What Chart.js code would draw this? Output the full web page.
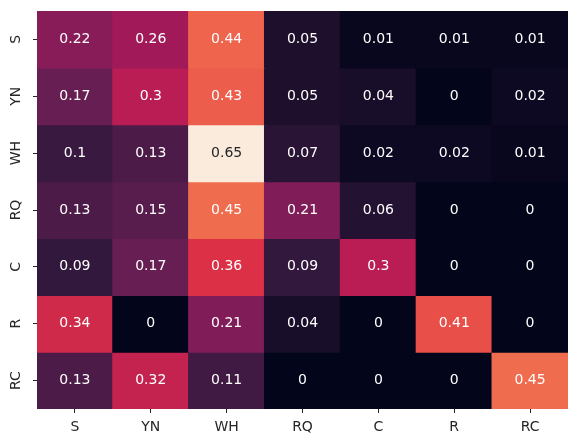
<!DOCTYPE html>
<html><head><meta charset="utf-8">
<script src="https://cdn.jsdelivr.net/npm/chart.js@4/dist/chart.umd.min.js"></script>
<style>html,body{margin:0;padding:0;background:#fff}#wrap{width:568px;height:436px}</style>
</head><body><div id="wrap"><canvas id="c" width="568" height="436"></canvas></div>
<script>
const colLabels = ["S","YN","WH","RQ","C","R","RC"];
const rowLabels = ["S","YN","WH","RQ","C","R","RC"];
const rowS  = [0.22,0.26,0.44,0.05,0.01,0.01,0.01];
const rowYN = [0.17,0.3,0.43,0.05,0.04,0,0.02];
const rowWH = [0.1,0.13,0.65,0.07,0.02,0.02,0.01];
const rowRQ = [0.13,0.15,0.45,0.21,0.06,0,0];
const rowC  = [0.09,0.17,0.36,0.09,0.3,0,0];
const rowR  = [0.34,0,0.21,0.04,0,0.41,0];
const rowRC = [0.13,0.32,0.11,0,0,0,0.45];
const rows = [rowS,rowYN,rowWH,rowRQ,rowC,rowR,rowRC];
const vmin = 0, vmax = 0.65;

// rocket colormap anchors
const anchors = [
  [0,[3,5,26]],[1/7,[0x35,0x19,0x3e]],[2/7,[0x70,0x1f,0x57]],[3/7,[0xad,0x17,0x59]],
  [4/7,[0xe1,0x33,0x42]],[5/7,[0xf3,0x76,0x51]],[6/7,[0xf6,0xb4,0x8f]],[1,[0xfa,0xeb,0xdd]]
];
function rocket(t){
  t=Math.max(0,Math.min(1,t));
  for(let i=0;i<anchors.length-1;i++){
    const [a,ca]=anchors[i],[b,cb]=anchors[i+1];
    if(t<=b){const f=(t-a)/(b-a);return ca.map((v,k)=>Math.round(v+(cb[k]-v)*f));}
  }
  return anchors[anchors.length-1][1];
}
function lum(c){
  const l=c.map(v=>{v/=255;return v<=0.03928?v/12.92:Math.pow((v+0.055)/1.055,2.4);});
  return 0.2126*l[0]+0.7152*l[1]+0.0722*l[2];
}
const datasets = rows.map((r,i)=>({
  data: r.map(()=>[i,i+1]),
  vals: r,
  backgroundColor: r.map(v=>{const c=rocket((v-vmin)/(vmax-vmin));return `rgb(${c[0]},${c[1]},${c[2]})`;}),
  borderWidth: 0,
  inflateAmount: 0.6,
  barPercentage: 1,
  categoryPercentage: 1,
  grouped: false
}));

const annot = {
  id:'annot',
  afterDatasetsDraw(chart){
    const ctx=chart.ctx;
    ctx.save();
    ctx.font='14px "DejaVu Sans"';
    ctx.textAlign='center';ctx.textBaseline='middle';
    chart.data.datasets.forEach((ds,i)=>{
      chart.getDatasetMeta(i).data.forEach((el,j)=>{
        const v=ds.vals[j];
        const c=rocket((v-vmin)/(vmax-vmin));
        ctx.fillStyle = lum(c)>0.408 ? '#262626' : '#ffffff';
        ctx.fillText(String(v), el.x, (el.y+el.base)/2);
      });
    });
    ctx.restore();
  }
};

new Chart(document.getElementById('c'),{
  type:'bar',
  data:{labels:colLabels,datasets},
  plugins:[annot],
  options:{
    responsive:false,animation:false,
    layout:{padding:{top:11,right:0,left:0,bottom:0}},
    plugins:{legend:{display:false},tooltip:{enabled:false}},
    scales:{
      x:{
        grid:{display:true,drawOnChartArea:false,drawTicks:true,tickLength:4,color:'#262626',offset:false},
        border:{display:false},
        ticks:{color:'#262626',font:{family:'DejaVu Sans',size:14},padding:6,maxRotation:0,minRotation:0},
        afterFit(s){s.height=27;s.paddingLeft=0;s.paddingRight=0;}
      },
      y:{
        type:'linear',min:0,max:7,reverse:true,
        afterBuildTicks(s){s.ticks=rowLabels.map((_,i)=>({value:i+0.5}));},
        grid:{display:true,drawOnChartArea:false,drawTicks:true,tickLength:4,color:'#262626'},
        border:{display:false},
        ticks:{color:'#262626',font:{family:'DejaVu Sans',size:14},padding:4,crossAlign:'center',minRotation:90,maxRotation:90,
          callback(v){const i=Math.round(v-0.5);return rowLabels[i];}},
        afterFit(s){s.width=37;s.paddingTop=0;s.paddingBottom=0;}
      }
    }
  }
});
</script></body></html>
